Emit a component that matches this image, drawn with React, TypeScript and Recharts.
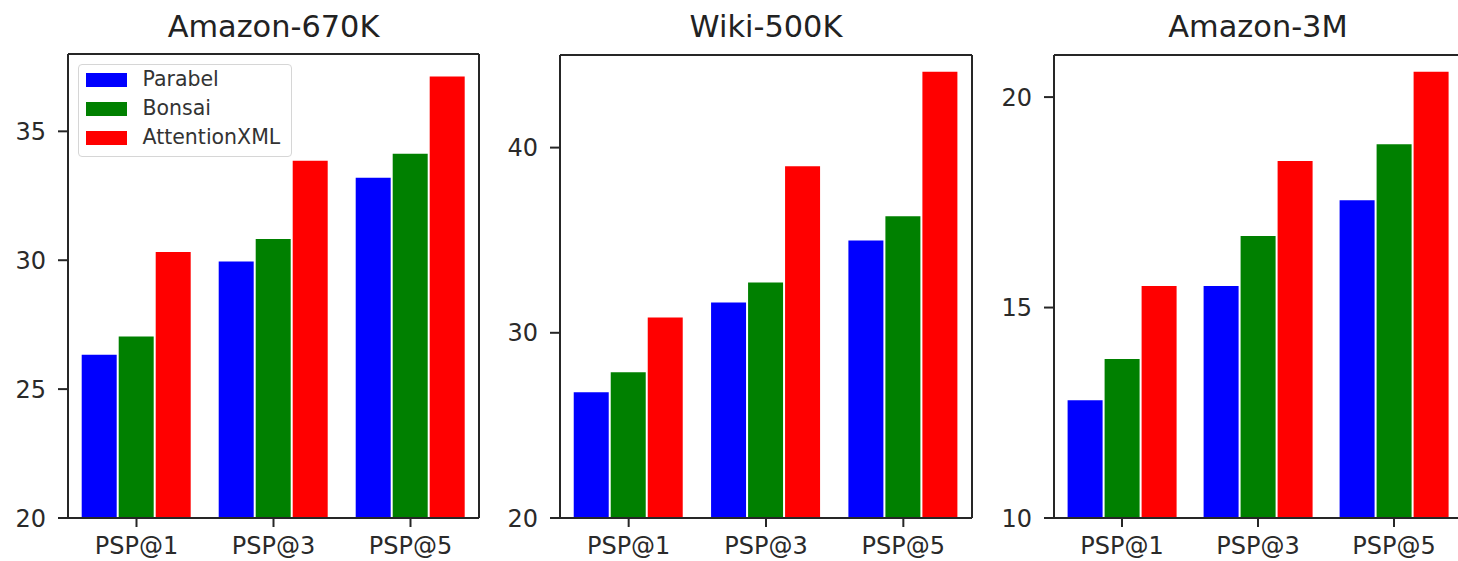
import React from 'react';
import { BarChart, Bar, XAxis, YAxis, Legend, CartesianGrid } from 'recharts';

const categories = ['PSP@1', 'PSP@3', 'PSP@5'];
const seriesNames = ['Parabel', 'Bonsai', 'AttentionXML'];
const seriesColors = ['#0000ff', '#008000', '#ff0000'];

const amazon670kParabel = [26.33, 29.95, 33.2];
const amazon670kBonsai = [27.04, 30.82, 34.13];
const amazon670kAttention = [30.32, 33.86, 37.13];

const wiki500kParabel = [26.79, 31.64, 34.99];
const wiki500kBonsai = [27.87, 32.72, 36.29];
const wiki500kAttention = [30.83, 38.99, 44.1];

const amazon3mParabel = [12.8, 15.51, 17.55];
const amazon3mBonsai = [13.78, 16.7, 18.88];
const amazon3mAttention = [15.51, 18.48, 20.6];

const titles = ['Amazon-670K', 'Wiki-500K', 'Amazon-3M'];
const yTicks670k = [20, 25, 30, 35];
const yTicks500k = [20, 30, 40];
const yTicks3m = [10, 15, 20];

const build = (a: number[], b: number[], c: number[]) =>
  categories.map((cat, i) => ({ cat, s0: a[i], s1: b[i], s2: c[i] }));

const FONT = "'DejaVu Sans', sans-serif";
const AXIS = '#262626';

const panels = [
  {
    title: titles[0],
    data: build(amazon670kParabel, amazon670kBonsai, amazon670kAttention),
    domain: [20, 38],
    ticks: yTicks670k,
    left: 0,
    yw: 68,
    right: 21,
    top: 54,
    legend: true,
  },
  {
    title: titles[1],
    data: build(wiki500kParabel, wiki500kBonsai, wiki500kAttention),
    domain: [20, 45],
    ticks: yTicks500k,
    left: 500,
    yw: 60,
    right: 28,
    top: 55,
    legend: false,
  },
  {
    title: titles[2],
    data: build(amazon3mParabel, amazon3mBonsai, amazon3mAttention),
    domain: [10, 21],
    ticks: yTicks3m,
    left: 1000,
    yw: 54,
    right: 38,
    top: 55,
    legend: false,
  },
];

const LegendBox = (props: any) => {
  const payload = [...(props.payload || [])].sort(
    (a: any, b: any) => seriesNames.indexOf(a.value) - seriesNames.indexOf(b.value)
  );
  return (
    <div
      style={{
        width: 214,
        height: 93,
        boxSizing: 'border-box',
        border: '1.5px solid #d6d6d6',
        borderRadius: 4,
        background: 'rgba(255,255,255,0.85)',
        fontFamily: FONT,
        fontSize: 20.5,
        color: '#333',
      }}
    >
      {payload.map((p: any, i: number) => (
        <div key={i} style={{ height: 29, display: 'flex', alignItems: 'center' }}>
          <div style={{ width: 41, height: 14, background: p.color, marginLeft: 6.5, marginRight: 16 }} />
          <span style={{ lineHeight: '29px' }}>{p.value}</span>
        </div>
      ))}
    </div>
  );
};

const CHART_W = 500;
const CHART_H = 561;

export default function App() {
  return (
    <div
      style={{
        position: 'absolute',
        left: 0,
        top: 0,
        width: 1458,
        height: 561,
        overflow: 'hidden',
        background: '#fff',
      }}
    >
      {panels.map((p, idx) => {
        const plotW = CHART_W - p.yw - p.right;
        return (
          <div key={idx} style={{ position: 'absolute', left: p.left, top: 0, width: CHART_W, height: CHART_H }}>
            <BarChart
              width={CHART_W}
              height={CHART_H}
              data={p.data}
              margin={{ top: p.top, right: p.right, bottom: 0, left: 0 }}
              barCategoryGap="10%"
              barGap={2}
            >
              <CartesianGrid
                stroke={AXIS}
                strokeWidth={2}
                verticalCoordinatesGenerator={(args: any) => [args.offset.left + args.offset.width]}
                horizontalCoordinatesGenerator={(args: any) => [args.offset.top]}
              />
              <XAxis
                dataKey="cat"
                height={43}
                tickSize={9}
                tickMargin={10}
                stroke={AXIS}
                strokeWidth={2}
                tick={{ fill: '#2a2a2a', fontSize: 24, fontFamily: FONT }}
                interval={0}
              />
              <YAxis
                width={p.yw}
                domain={p.domain}
                ticks={p.ticks}
                allowDataOverflow
                tickSize={10}
                tickMargin={12}
                stroke={AXIS}
                strokeWidth={2}
                tick={{ fill: '#2a2a2a', fontSize: 24, fontFamily: FONT }}
              />
              {p.legend && (
                <Legend
                  layout="vertical"
                  align="center"
                  verticalAlign="middle"
                  content={<LegendBox />}
                  wrapperStyle={{ position: 'absolute', left: 78, top: 64, width: 214, height: 93 }}
                />
              )}
              <Bar dataKey="s0" name={seriesNames[0]} fill={seriesColors[0]} isAnimationActive={false} />
              <Bar dataKey="s1" name={seriesNames[1]} fill={seriesColors[1]} isAnimationActive={false} />
              <Bar dataKey="s2" name={seriesNames[2]} fill={seriesColors[2]} isAnimationActive={false} />
            </BarChart>
            <svg
              width={CHART_W}
              height={50}
              style={{ position: 'absolute', left: 0, top: 0, pointerEvents: 'none' }}
            >
              <text
                x={p.yw + plotW / 2}
                y={37}
                textAnchor="middle"
                fontFamily={FONT}
                fontSize={30.4}
                fill="#222"
              >
                {p.title}
              </text>
            </svg>
          </div>
        );
      })}
    </div>
  );
}
